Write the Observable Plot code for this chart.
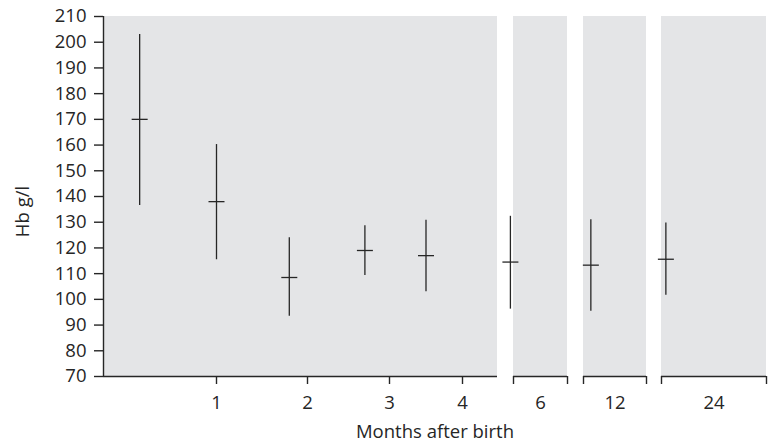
<!DOCTYPE html>
<html>
<head>
<meta charset="utf-8">
<script src="https://cdn.jsdelivr.net/npm/d3@7"></script>
<script src="https://cdn.jsdelivr.net/npm/@observablehq/plot@0.6"></script>
<style>
  html, body { margin: 0; padding: 0; background: #fff; }
  #chart svg { display: block; }
</style>
</head>
<body>
<div id="chart"></div>
<script>
// ---- data ----
const months  = [0.32, 1, 1.8, 2.7, 3.5, 5.7, 12.7, 24.5];
const hbMean  = [170, 138, 108.5, 119, 117, 114.5, 113.3, 115.6];
const hbLow   = [136.5, 115.4, 93.4, 109.3, 103, 96.2, 95.4, 101.6];
const hbHigh  = [203, 160.2, 124, 128.6, 130.8, 132.3, 131, 129.7];

const panelStart  = [0, 6, 12, 24];
const panelEnd    = [4.45, 9, 18, 36];
const panelLabels = ["", "6", "12", "24"];

const monthTicks = [1, 2, 3, 4];
const yTicks = [70, 80, 90, 100, 110, 120, 130, 140, 150, 160, 170, 180, 190, 200, 210];
const yDomain = [70, 210];

// broken x axis: piecewise scale (month -> pixel)
const xBreaks = [0, 1, 2, 3, 4, 4.45, 6, 9, 12, 18, 24, 36];
const xPixels = [103, 216, 307, 389, 462, 497, 513, 567, 583, 646, 661, 766];

// ---- derived tables ----
const points = months.map((m, i) => ({month: m, mean: hbMean[i], lo: hbLow[i], hi: hbHigh[i]}));
const panels = panelStart.map((s, i) => ({start: s, end: panelEnd[i], label: panelLabels[i], mid: (s + panelEnd[i]) / 2}));
const brokenPanels = panels.slice(1);
const edges = brokenPanels.flatMap(p => [p.start, p.end]);

const ink = "#262626";
const font = "'Open Sans', Lato, sans-serif";
const fs = 18.5;

// horizontal bar symbol for the means
const hbar = {
  draw(ctx, size) {
    const r = Math.sqrt(size / Math.PI);
    ctx.moveTo(-r, 0);
    ctx.lineTo(r, 0);
  }
};

const chart = Plot.plot({
  width: 769,
  height: 441,
  marginTop: 16,
  marginBottom: 65,
  marginLeft: 103,
  marginRight: 3,
  style: {fontFamily: font, fontSize: fs + "px", color: ink, background: "#fff"},
  x: {type: "linear", domain: xBreaks, range: xPixels, axis: null},
  y: {domain: yDomain, axis: null},
  marks: [
    Plot.rect(panels, {x1: "start", x2: "end", y1: () => yDomain[0], y2: () => yDomain[1], fill: "#e4e5e7"}),
    // y axis
    Plot.ruleX([0], {y1: () => yDomain[0], y2: () => yDomain[1], stroke: ink, strokeWidth: 1.4}),
    Plot.axisY(yTicks, {tickSize: 9, tickPadding: 8, stroke: ink, strokeWidth: 1.4, fill: ink, fontSize: fs, label: null}),
    // x axis lines, one per panel
    Plot.ruleY(panels, {x1: "start", x2: "end", y: () => yDomain[0], stroke: ink, strokeWidth: 1.4}),
    // month ticks in first panel
    Plot.axisX(monthTicks, {tickSize: 8, tickPadding: 11, stroke: ink, strokeWidth: 1.4, fill: ink, fontSize: fs, label: null}),
    // bracket ticks for broken panels
    Plot.axisX(edges, {tickSize: 8, tickFormat: () => "", stroke: ink, strokeWidth: 1.4, label: null}),
    // centered labels for broken panels
    Plot.axisX(brokenPanels.map(p => p.mid), {tickSize: 0, tickPadding: 19, tickFormat: (d, i) => brokenPanels[i].label, fill: ink, fontSize: fs, label: null}),
    // error bars
    Plot.ruleX(points, {x: "month", y1: "lo", y2: "hi", stroke: ink, strokeWidth: 1.3}),
    Plot.dot(points, {x: "month", y: "mean", symbol: hbar, r: 8, stroke: ink, strokeWidth: 1.3, fill: "none"}),
    // axis titles
    Plot.text(["Months after birth"], {frameAnchor: "bottom", dy: 61, fill: ink, fontSize: fs}),
    Plot.text(["Hb g/l"], {frameAnchor: "left", textAnchor: "middle", rotate: -90, dx: -80, dy: 15, fill: ink, fontSize: fs})
  ]
});

document.getElementById("chart").appendChild(chart);
</script>
</body>
</html>
